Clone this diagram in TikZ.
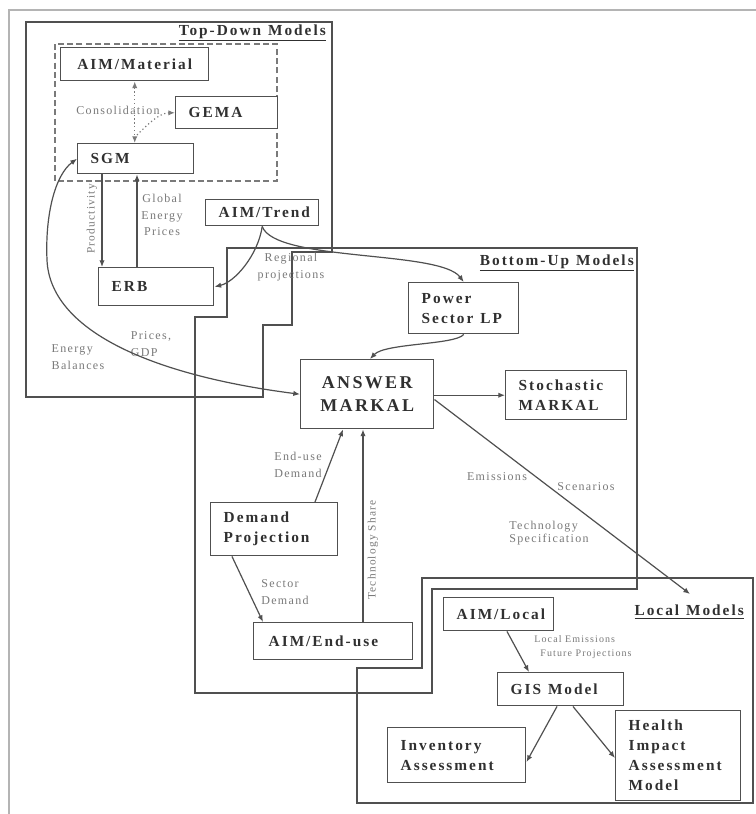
\documentclass[tikz,border=0pt]{standalone}
\usepackage{fontspec}
\setmainfont{Liberation Serif}
\newfontfamily\boxfnt[LetterSpace=13]{Liberation Serif}
\newfontfamily\lblfnt[LetterSpace=11]{Liberation Serif}
\usetikzlibrary{arrows.meta}
\definecolor{lnc}{HTML}{505050}
\definecolor{txc}{HTML}{303030}
\definecolor{lbc}{HTML}{7A7A7A}
\definecolor{frc}{HTML}{B4B4B4}
\newcommand{\wsp}{\hspace{0.45em}}
\begin{document}
\begin{tikzpicture}[x=0.75pt,y=-0.75pt,
  region/.style={draw=lnc, line width=1.1pt},
  box/.style n args={3}{draw=lnc, fill=white, line width=1.1pt, inner sep=0pt,
    anchor=north west, minimum width=#1*0.75pt, minimum height=#2*0.75pt,
    text width=#3pt, align=left, text=txc,
    font=\boxfnt\bfseries\fontsize{11.5}{15}\selectfont},
  rlabel/.style={anchor=east, inner sep=0pt, text=txc,
    font=\boxfnt\bfseries\fontsize{11.5}{15}\selectfont},
  lbl/.style={inner sep=0pt, text=lbc, font=\lblfnt\fontsize{9}{12.5}\selectfont},
  smalllbl/.style={inner sep=0pt, text=lbc, font=\lblfnt\fontsize{7.5}{11}\selectfont},
  arr/.style={draw=lnc, line width=0.9pt, -{Latex[length=5pt,width=4pt]}},
  arrboth/.style={draw=lnc, line width=0.9pt, {Latex[length=5pt,width=4pt]}-{Latex[length=5pt,width=4pt]}},
  dotarr/.style={draw=lbc, line width=0.9pt, dotted},
]
\useasboundingbox (0,0) rectangle (756,814);
\fill[white] (0,0) rectangle (756,814);
% outer frame
\draw[draw=frc, line width=1.1pt] (756,10) -- (9,10) -- (9,814);

% regions
\draw[region] (26,22) -- (332,22) -- (332,252) -- (292,252) -- (292,325) -- (263,325) -- (263,397) -- (26,397) -- cycle;
\draw[region] (227,248) -- (637,248) -- (637,589) -- (432,589) -- (432,693) -- (195,693) -- (195,317) -- (227,317) -- cycle;
\draw[region] (422,578) -- (753,578) -- (753,803) -- (357,803) -- (357,668) -- (422,668) -- cycle;
\draw[draw=lbc, line width=0.9pt, dash pattern=on 4.5pt off 2.5pt] (55,44) rectangle (277,181);

% region labels
\node[rlabel] (tdl) at (326,33) {\underline{Top-Down\wsp Models}};
\node[rlabel] (bul) at (634,263) {\underline{Bottom-Up\wsp Models}};
\node[rlabel] (lml) at (744,612) {\underline{Local\wsp Models}};

% boxes
\node[box={148}{33}{91.5}, align=center] (mat) at (60,47) {AIM/Material};
\node[box={102}{32}{57}] (gema) at (175,96) {GEMA};
\node[box={116}{30}{67.5}] (sgm) at (77,143) {SGM};
\node[box={113}{26}{65.25}] (trend) at (205,199) {AIM/Trend};
\node[box={115}{38}{66.75}] (erb) at (98,267) {ERB};
\node[box={110}{51}{63}] (pslp) at (408,282) {Power\\Sector\wsp LP};
\node[box={133}{69}{92.25}, align=center, font=\boxfnt\bfseries\fontsize{13.5}{17}\selectfont] (ans) at (300,359) {ANSWER\\MARKAL};
\node[box={121}{49}{71.25}] (stoch) at (505,370) {Stochastic\\MARKAL};
\node[box={127}{53}{75.75}] (dem) at (210,502) {Demand\\Projection};
\node[box={159}{37}{96.75}] (enduse) at (253,622) {AIM/End-use};
\node[box={110}{33}{63}] (local) at (443,597) {AIM/Local};
\node[box={126}{33}{75}] (gis) at (497,672) {GIS\wsp Model};
\node[box={138}{55}{84}] (inv) at (387,727) {Inventory\\Assessment};
\node[box={125}{90}{74.25}] (health) at (615,710) {Health\\Impact\\Assessment\\Model};

% labels
\node[lbl] (lcons) at (118,110) {Consolidation};
\node[lbl, rotate=90, font=\lblfnt\fontsize{8.5}{12.5}\selectfont] (lprod) at (92,219) {Productivity};
\node[lbl, align=center] (lgep) at (162,215) {Global\\Energy\\Prices};
\node[lbl, align=center] (lreg) at (291,267) {Regional\\projections};
\node[lbl, align=left] (leb) at (78,357) {Energy\\Balances};
\node[lbl, align=left] (lpg) at (151,344) {Prices,\\GDP};
\node[lbl, align=left] (leud) at (298,465) {End-use\\Demand};
\node[lbl, rotate=90, font=\lblfnt\fontsize{8.5}{12.5}\selectfont] (lts) at (373,550) {Technology Share};
\node[lbl, align=left] (lsd) at (285,592) {Sector\\Demand};
\node[lbl] (lem) at (497,477) {Emissions};
\node[lbl] (lsc) at (586,487) {Scenarios};
\node[lbl, align=left, font=\lblfnt\fontsize{9}{10}\selectfont] (lspec) at (549,533) {Technology\\Specification};
\node[smalllbl, align=left] (lloc) at (583,647) {Local Emissions\\\hspace*{4.5pt}Future Projections};

% connectors
\draw[dotarr, {Latex[length=5pt,width=4pt]}-{Latex[length=5pt,width=4pt]}] (mat.south) -- (mat.south |- sgm.north);
\coordinate (cons) at (137,135);
\draw[dotarr, -{Latex[length=5pt,width=4pt]}] (cons) .. controls (150,122) and (160,113) .. (gema.west);
\draw[arr] (sgm.south -| 102,0) -- (erb.north -| 102,0);
\draw[arr] (erb.north -| 137,0) -- (sgm.south -| 137,0);
\draw[arr] (trend.south) .. controls (258,255) and (235,282) .. (erb.east);
\draw[arr] (trend.south) .. controls (275,262) and (440,250) .. (pslp.north);
\draw[arrboth] (sgm.west) .. controls (55,175) and (45,215) .. (47,260) .. controls (50,330) and (150,375) .. (ans.west);
\draw[arr] (pslp.south) .. controls (455,345) and (385,343) .. (ans.north -| 370,0);
\draw[arr] (ans.east |- stoch.west) -- (stoch.west);
\coordinate (lm) at (690,594);
\draw[arr] ([yshift=-4pt]ans.east) -- (lm);
\draw[arr] (dem.north -| 315,0) -- (ans.south -| 343,0);
\draw[arr] (enduse.north -| 363,0) -- (ans.south -| 363,0);
\draw[arr] (dem.south -| 232,0) -- (enduse.north -| 263,0);
\draw[arr] (local.south -| 507,0) -- (gis.north -| 529,0);
\draw[arr] (gis.south -| 557,0) -- (inv.east |- 0,762);
\draw[arr] (gis.south -| 573,0) -- (health.west |- 0,758);
\end{tikzpicture}
\end{document}
